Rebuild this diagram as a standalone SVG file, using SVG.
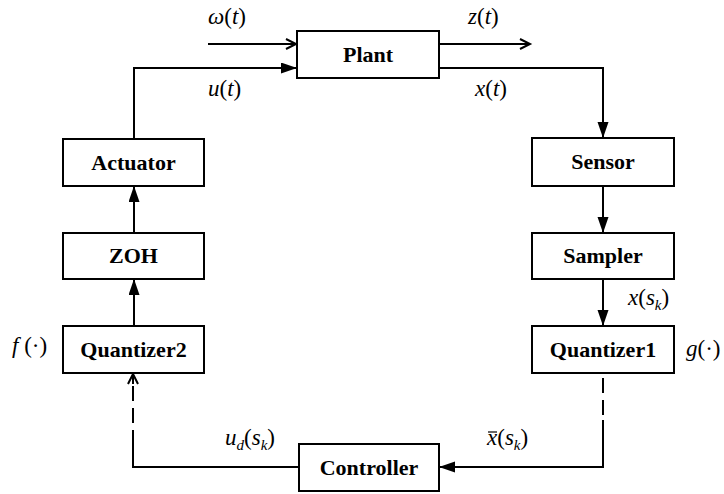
<svg xmlns="http://www.w3.org/2000/svg" width="724" height="494" viewBox="0 0 724 494">
<defs>
<marker id="fill" markerUnits="userSpaceOnUse" markerWidth="18" markerHeight="12" refX="16" refY="5.5" orient="auto">
<path d="M0,0 L16,5.5 L0,11 z" fill="#000"/>
</marker>
<marker id="open" markerUnits="userSpaceOnUse" markerWidth="14" markerHeight="14" refX="11" refY="6" orient="auto">
<path d="M1,1 L11,6 L1,11" fill="none" stroke="#000" stroke-width="2"/>
</marker>
</defs>
<style>
.box{fill:#fff;stroke:#000;stroke-width:2}
.lbl{font-weight:bold;font-size:22px;text-anchor:middle;fill:#000}
.m{font-size:23px;fill:#000}
.i{font-style:italic}
.s{font-size:15px;font-style:italic}
.ln{fill:none;stroke:#000;stroke-width:2}
.dash{fill:none;stroke:#000;stroke-width:2;stroke-dasharray:15,7}
</style>
<rect width="724" height="494" fill="#fff"/>
<g id="connectors">
<line class="ln" x1="208" y1="44" x2="296" y2="44" marker-end="url(#open)"/>
<line class="ln" x1="439" y1="44" x2="530" y2="44" marker-end="url(#open)"/>
<path class="ln" d="M134,139 V68 H297" marker-end="url(#fill)"/>
<path class="ln" d="M439,68 H603 V138" marker-end="url(#fill)"/>
<line class="ln" x1="603" y1="186" x2="603" y2="233" marker-end="url(#fill)"/>
<line class="ln" x1="603" y1="279" x2="603" y2="326" marker-end="url(#fill)"/>
<line class="ln" x1="134" y1="233" x2="134" y2="186" marker-end="url(#fill)"/>
<line class="ln" x1="134" y1="326" x2="134" y2="279" marker-end="url(#fill)"/>
<line class="dash" x1="603" y1="378" x2="603" y2="420"/>
<path class="ln" d="M603,420 V467 H439" marker-end="url(#fill)"/>
<path class="ln" d="M299,467 H133 V445"/>
<line class="dash" x1="133" y1="445" x2="133" y2="380"/>
<line class="ln" x1="133" y1="384" x2="133" y2="374" marker-end="url(#open)"/>
</g>
<g font-family="Liberation Serif, Times New Roman, DejaVu Serif, serif">
<g id="plant"><rect class="box" x="297" y="31" width="142" height="47"/><text class="lbl" x="368" y="62">Plant</text></g>
<g id="actuator"><rect class="box" x="63" y="139" width="141" height="47"/><text class="lbl" x="133.5" y="170">Actuator</text></g>
<g id="zoh"><rect class="box" x="63" y="233" width="141" height="46"/><text class="lbl" x="133.5" y="263">ZOH</text></g>
<g id="quantizer2"><rect class="box" x="63" y="326" width="141" height="47"/><text class="lbl" x="133.5" y="357">Quantizer2</text></g>
<g id="sensor"><rect class="box" x="532" y="138" width="142" height="48"/><text class="lbl" x="603" y="169">Sensor</text></g>
<g id="sampler"><rect class="box" x="532" y="233" width="142" height="46"/><text class="lbl" x="603" y="263">Sampler</text></g>
<g id="quantizer1"><rect class="box" x="532" y="326" width="142" height="47"/><text class="lbl" x="603" y="357">Quantizer1</text></g>
<g id="controller"><rect class="box" x="299" y="444" width="140" height="47"/><text class="lbl" x="369" y="475">Controller</text></g>
<g id="labels">
<text class="m" x="208" y="24"><tspan class="i">ω</tspan>(<tspan class="i">t</tspan>)</text>
<text class="m" x="468" y="24"><tspan class="i">z</tspan>(<tspan class="i">t</tspan>)</text>
<text class="m" x="208" y="96"><tspan class="i">u</tspan>(<tspan class="i">t</tspan>)</text>
<text class="m" x="475" y="96"><tspan class="i">x</tspan>(<tspan class="i">t</tspan>)</text>
<text class="m" x="628" y="305"><tspan class="i">x</tspan>(<tspan class="i">s</tspan><tspan class="s" dy="5">k</tspan><tspan dy="-5">)</tspan></text>
<text class="m" x="686" y="356"><tspan class="i">g</tspan>(·)</text>
<text class="m" x="12" y="353"><tspan class="i">f</tspan> (·)</text>
<text class="m" x="225" y="445"><tspan class="i">u</tspan><tspan class="s" dy="5">d</tspan><tspan dy="-5">(</tspan><tspan class="i">s</tspan><tspan class="s" dy="5">k</tspan><tspan dy="-5">)</tspan></text>
<line x1="488" y1="432" x2="497" y2="432" stroke="#000" stroke-width="1.2"/>
<text class="m" x="487" y="445"><tspan class="i">x</tspan>(<tspan class="i">s</tspan><tspan class="s" dy="5">k</tspan><tspan dy="-5">)</tspan></text>
</g>
</g>
</svg>
